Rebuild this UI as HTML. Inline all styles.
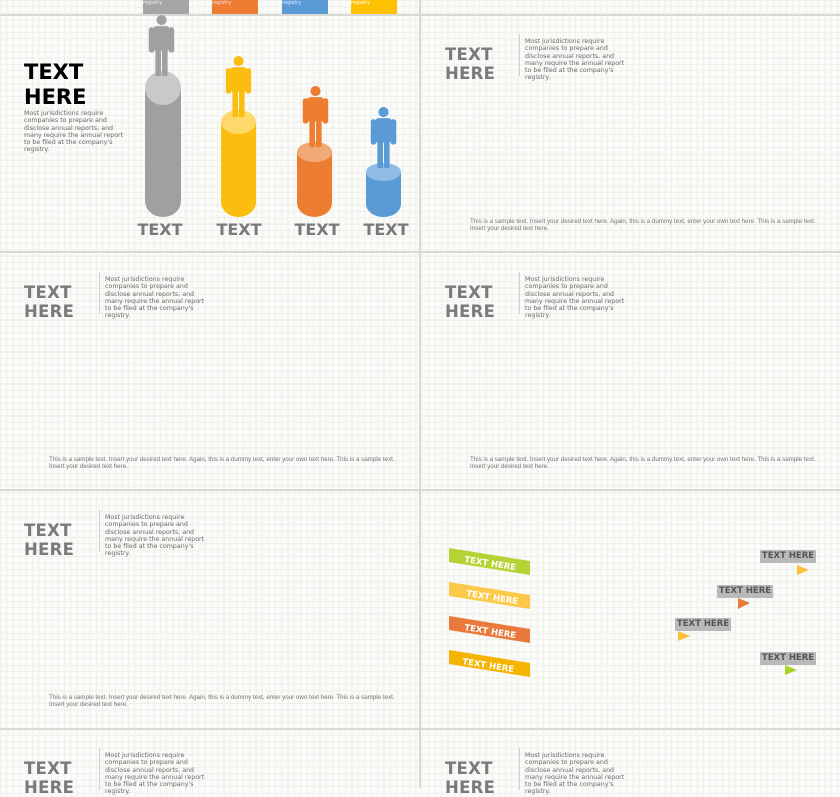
<!DOCTYPE html>
<html><head><meta charset="utf-8"><style>
body{margin:0;width:840px;height:788px;overflow:hidden;position:relative;font-family:"DejaVu Sans","Liberation Sans",sans-serif;
background-color:#fbfbf9;
background-image:linear-gradient(#eeeeea 1px,transparent 1px),linear-gradient(90deg,#eeeeea 1px,transparent 1px);
background-size:6.4px 6.4px;}
.a{position:absolute}
.hl{position:absolute;left:0;width:840px;height:2px;background:#d9d9d4}
.th{position:absolute;font-weight:bold;color:#7a7a7a;font-size:16.5px;line-height:19px;letter-spacing:0.3px}
.vl{position:absolute;width:1px;background:#cfcfcf;height:42px}
.p{position:absolute;font-size:6.3px;line-height:7.3px;color:#6a6a6a;white-space:nowrap}
.b{position:absolute;font-family:"Liberation Sans",sans-serif;font-size:6.2px;line-height:7.3px;color:#777;white-space:nowrap}
.tag{position:absolute;background:#b9b9b9;color:#555;font-weight:bold;font-size:8.5px;line-height:13px;width:56px;height:13px;text-align:center}
</style></head><body>
<div class="hl" style="top:14px"></div>
<div class="hl" style="top:251px"></div>
<div class="hl" style="top:489px"></div>
<div class="hl" style="top:728px"></div>
<div class="a" style="left:419px;top:0;width:2px;height:788px;background:#d9d9d4"></div>

<div class="a" style="left:143px;top:0;width:46px;height:14px;background:#a5a5a5;color:#eee;font-size:5px">registry</div>
<div class="a" style="left:212px;top:0;width:46px;height:14px;background:#ed7d31;color:#fde;font-size:5px">registry</div>
<div class="a" style="left:282px;top:0;width:46px;height:14px;background:#5b9bd5;color:#def;font-size:5px">registry</div>
<div class="a" style="left:351px;top:0;width:46px;height:14px;background:#ffc000;color:#fff;font-size:5px">registry</div>

<div class="a" style="left:24px;top:60px;font-weight:bold;font-size:21px;line-height:25px;color:#000">TEXT<br>HERE</div>
<div class="p" style="left:24px;top:110px">Most jurisdictions require<br>companies to prepare and<br>disclose annual reports, and<br>many require the annual report<br>to be filed at the company's<br>registry.</div>
<svg class="a" style="left:0;top:0" width="420" height="252">
<defs><symbol id="pp" viewBox="0 0 26 60"><circle cx="13" cy="5" r="5"/><rect x="5" y="11" width="16" height="24" rx="3"/><rect x="0.5" y="12" width="5.5" height="25" rx="2.5"/><rect x="20" y="12" width="5.5" height="25" rx="2.5"/><rect x="7" y="30" width="5.5" height="30" rx="1"/><rect x="13.5" y="30" width="5.5" height="30" rx="1"/></symbol></defs>
<rect x="145" y="88" width="36" height="113" fill="#a0a0a0"/><ellipse cx="163" cy="201" rx="18" ry="16" fill="#a0a0a0"/><ellipse cx="163" cy="88" rx="18" ry="17" fill="#c9c9c9"/>
<rect x="221" y="122" width="35" height="80" fill="#fbbe10"/><ellipse cx="238.5" cy="202" rx="17.5" ry="15" fill="#fbbe10"/><ellipse cx="238.5" cy="122" rx="17.5" ry="12" fill="#fdd86a"/>
<rect x="297" y="152" width="35" height="51" fill="#ed7d31"/><ellipse cx="314.5" cy="203" rx="17.5" ry="14" fill="#ed7d31"/><ellipse cx="314.5" cy="152" rx="17.5" ry="10" fill="#f3a878"/>
<rect x="366" y="172" width="35" height="32" fill="#5b9bd5"/><ellipse cx="383.5" cy="204" rx="17.5" ry="13" fill="#5b9bd5"/><ellipse cx="383.5" cy="172" rx="17.5" ry="9" fill="#8fbde6"/>
<use href="#pp" x="148" y="15" width="27" height="61" fill="#a0a0a0"/>
<use href="#pp" x="225" y="56" width="27" height="61" fill="#fbbe10"/>
<use href="#pp" x="302" y="86" width="27" height="61" fill="#ed7d31"/>
<use href="#pp" x="370" y="107" width="27" height="61" fill="#5b9bd5"/>
<g font-family="DejaVu Sans" font-weight="bold" font-size="16" fill="#7a7a7a" text-anchor="middle">
<text x="160" y="235">TEXT</text><text x="239" y="235">TEXT</text><text x="317" y="235">TEXT</text><text x="386" y="235">TEXT</text></g>
</svg>

<div class="th" style="left:445px;top:45px">TEXT<br>HERE</div><div class="vl" style="left:519px;top:34px"></div>
<div class="p" style="left:525px;top:38px">Most jurisdictions require<br>companies to prepare and<br>disclose annual reports, and<br>many require the annual report<br>to be filed at the company's<br>registry.</div>
<div class="b" style="left:470px;top:218px">This is a sample text. Insert your desired text here. Again, this is a dummy text, enter your own text here. This is a sample text.<br>Insert your desired text here.</div>

<div class="th" style="left:24px;top:283px">TEXT<br>HERE</div><div class="vl" style="left:99px;top:272px"></div>
<div class="p" style="left:105px;top:276px">Most jurisdictions require<br>companies to prepare and<br>disclose annual reports, and<br>many require the annual report<br>to be filed at the company's<br>registry.</div>
<div class="b" style="left:49px;top:456px">This is a sample text. Insert your desired text here. Again, this is a dummy text, enter your own text here. This is a sample text.<br>Insert your desired text here.</div>

<div class="th" style="left:445px;top:283px">TEXT<br>HERE</div><div class="vl" style="left:519px;top:272px"></div>
<div class="p" style="left:525px;top:276px">Most jurisdictions require<br>companies to prepare and<br>disclose annual reports, and<br>many require the annual report<br>to be filed at the company's<br>registry.</div>
<div class="b" style="left:470px;top:456px">This is a sample text. Insert your desired text here. Again, this is a dummy text, enter your own text here. This is a sample text.<br>Insert your desired text here.</div>

<div class="th" style="left:24px;top:521px">TEXT<br>HERE</div><div class="vl" style="left:99px;top:510px"></div>
<div class="p" style="left:105px;top:514px">Most jurisdictions require<br>companies to prepare and<br>disclose annual reports, and<br>many require the annual report<br>to be filed at the company's<br>registry.</div>
<div class="b" style="left:49px;top:694px">This is a sample text. Insert your desired text here. Again, this is a dummy text, enter your own text here. This is a sample text.<br>Insert your desired text here.</div>

<div class="th" style="left:24px;top:759px">TEXT<br>HERE</div><div class="vl" style="left:99px;top:748px"></div>
<div class="p" style="left:105px;top:752px">Most jurisdictions require<br>companies to prepare and<br>disclose annual reports, and<br>many require the annual report<br>to be filed at the company's<br>registry.</div>
<div class="th" style="left:445px;top:759px">TEXT<br>HERE</div><div class="vl" style="left:519px;top:748px"></div>
<div class="p" style="left:525px;top:752px">Most jurisdictions require<br>companies to prepare and<br>disclose annual reports, and<br>many require the annual report<br>to be filed at the company's<br>registry.</div>

<svg class="a" style="left:420px;top:490px" width="420" height="238">
<g font-family="DejaVu Sans" font-weight="bold" font-size="8.5" fill="#fff">
<polygon points="29,58 110,71 110,85 29,72" fill="#b5d334"/><text x="44" y="72" transform="rotate(9 44 72)">TEXT HERE</text>
<polygon points="29,92 110,105 110,119 29,106" fill="#fdc94a"/><text x="46" y="106" transform="rotate(9 46 106)">TEXT HERE</text>
<polygon points="29,126 110,139 110,153 29,140" fill="#ea7a3b"/><text x="44" y="140" transform="rotate(9 44 140)">TEXT HERE</text>
<polygon points="29,160 110,173 110,187 29,174" fill="#f4b400"/><text x="42" y="174" transform="rotate(9 42 174)">TEXT HERE</text>
</g>
<polygon points="377,75 389,80 377,85" fill="#fbc137"/>
<polygon points="318,108 330,113 318,119" fill="#ea7a3b"/>
<polygon points="258,141 270,146 258,151" fill="#fbc137"/>
<polygon points="365,175 377,180 365,185" fill="#a9d22b"/>
</svg>
<div class="tag" style="left:760px;top:550px">TEXT HERE</div>
<div class="tag" style="left:717px;top:585px">TEXT HERE</div>
<div class="tag" style="left:675px;top:618px">TEXT HERE</div>
<div class="tag" style="left:760px;top:652px">TEXT HERE</div>
</body></html>
